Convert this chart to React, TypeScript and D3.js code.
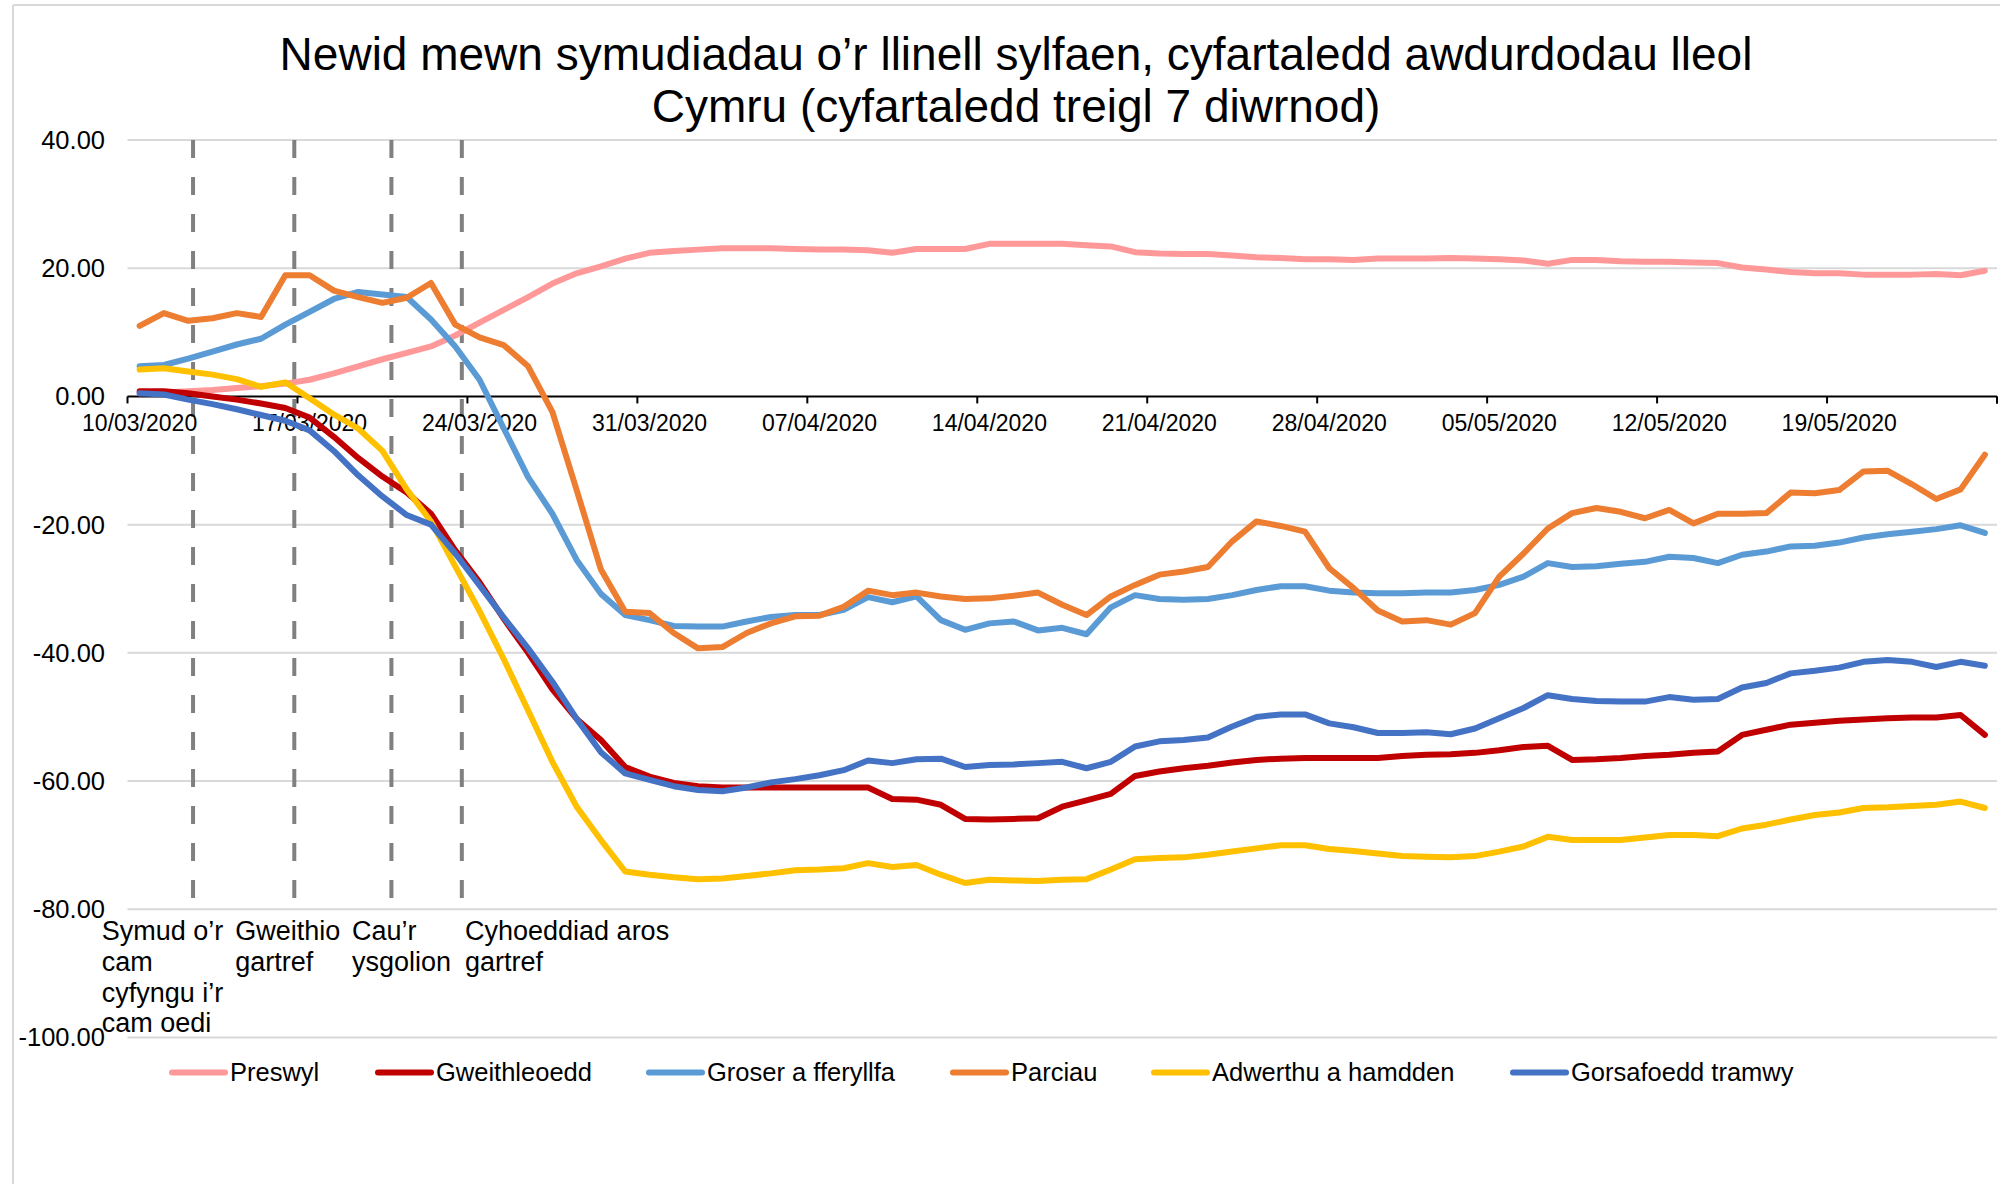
import React from 'react';
import * as d3 from 'd3';

// categories: daily dates, 10/03/2020 to 25/05/2020
const fmt = d3.timeFormat('%d/%m/%Y');
const dates: string[] = d3.timeDay.range(new Date(2020, 2, 10), new Date(2020, 4, 26)).map(fmt);

const seriesNames = [
  'Preswyl',
  'Gweithleoedd',
  'Groser a fferyllfa',
  'Parciau',
  'Adwerthu a hamdden',
  'Gorsafoedd tramwy',
];

const preswyl = [
  0.5, 0.6, 0.8, 1.0, 1.3, 1.6, 2.0, 2.6, 3.6, 4.7,
  5.8, 6.8, 7.8, 9.5, 11.5, 13.5, 15.5, 17.6, 19.2, 20.3,
  21.5, 22.4, 22.7, 22.9, 23.1, 23.1, 23.1, 23.0, 22.9, 22.9,
  22.8, 22.4, 23.0, 23.0, 23.0, 23.8, 23.8, 23.8, 23.8, 23.6,
  23.4, 22.5, 22.3, 22.2, 22.2, 22.0, 21.7, 21.6, 21.4, 21.4,
  21.3, 21.5, 21.5, 21.5, 21.6, 21.5, 21.4, 21.2, 20.7, 21.3,
  21.3, 21.1, 21.0, 21.0, 20.9, 20.8, 20.1, 19.8, 19.4, 19.2,
  19.2, 19.0, 19.0, 19.0, 19.1, 18.9, 19.6,
];

const gweithleoedd = [
  0.8, 0.8, 0.5, 0.0, -0.5, -1.1, -1.8, -3.3, -6.3, -9.6,
  -12.5, -15.0, -18.3, -24.0, -29.0, -34.7, -40.0, -45.7, -50.3, -53.6,
  -57.8, -59.3, -60.3, -60.8, -61.0, -61.0, -61.0, -61.0, -61.0, -61.0,
  -61.0, -62.8, -62.9, -63.7, -65.9, -66.0, -65.9, -65.8, -64.0, -63.0,
  -62.0, -59.2, -58.5, -58.0, -57.6, -57.1, -56.7, -56.5, -56.4, -56.4,
  -56.4, -56.4, -56.1, -55.9, -55.8, -55.6, -55.2, -54.7, -54.5, -56.7,
  -56.6, -56.4, -56.1, -55.9, -55.6, -55.4, -52.8, -52.0, -51.2, -50.9,
  -50.6, -50.4, -50.2, -50.1, -50.1, -49.7, -52.8,
];

const groser = [
  4.7, 4.9, 5.9, 7.0, 8.1, 9.0, 11.2, 13.2, 15.2, 16.3,
  15.9, 15.5, 12.0, 7.8, 2.6, -5.0, -12.6, -18.3, -25.5, -30.8,
  -34.1, -34.9, -35.8, -35.9, -35.9, -35.1, -34.4, -34.1, -34.1, -33.3,
  -31.3, -32.1, -31.2, -34.9, -36.4, -35.4, -35.1, -36.5, -36.1, -37.1,
  -32.9, -31.0, -31.6, -31.7, -31.6, -31.0, -30.2, -29.6, -29.6, -30.3,
  -30.6, -30.7, -30.7, -30.6, -30.6, -30.2, -29.4, -28.1, -26.0, -26.6,
  -26.5, -26.1, -25.8, -25.0, -25.2, -26.0, -24.7, -24.2, -23.4, -23.3,
  -22.8, -22.0, -21.5, -21.1, -20.7, -20.1, -21.3,
];

const parciau = [
  11.0, 13.0, 11.8, 12.2, 13.0, 12.4, 18.9, 18.9, 16.5, 15.5,
  14.6, 15.4, 17.7, 11.2, 9.2, 8.0, 4.7, -2.4, -14.6, -27.0,
  -33.6, -33.8, -36.9, -39.3, -39.1, -36.9, -35.4, -34.3, -34.2, -32.8,
  -30.3, -31.0, -30.6, -31.2, -31.6, -31.5, -31.1, -30.6, -32.5, -34.1,
  -31.2, -29.4, -27.8, -27.3, -26.6, -22.6, -19.5, -20.2, -21.1, -26.8,
  -29.9, -33.4, -35.1, -34.9, -35.6, -33.8, -28.1, -24.5, -20.6, -18.2,
  -17.4, -18.0, -19.0, -17.7, -19.8, -18.3, -18.3, -18.2, -15.0, -15.1,
  -14.6, -11.7, -11.6, -13.7, -16.0, -14.5, -9.1,
];

const adwerthu = [
  4.2, 4.4, 3.9, 3.4, 2.7, 1.5, 2.2, -0.3, -2.8, -5.0,
  -8.5, -14.5, -19.5, -26.5, -33.5, -41.0, -49.0, -57.0, -64.0, -69.2,
  -74.1, -74.6, -75.0, -75.3, -75.2, -74.8, -74.4, -73.9, -73.8, -73.6,
  -72.8, -73.4, -73.1, -74.6, -75.9, -75.4, -75.5, -75.6, -75.4, -75.3,
  -73.8, -72.2, -72.0, -71.9, -71.5, -71.0, -70.5, -70.0, -70.0, -70.6,
  -70.9, -71.3, -71.7, -71.8, -71.9, -71.7, -71.0, -70.2, -68.7, -69.2,
  -69.2, -69.2, -68.8, -68.4, -68.4, -68.6, -67.4, -66.8, -66.0, -65.3,
  -64.9, -64.2, -64.1, -63.9, -63.7, -63.2, -64.2,
];

const gorsafoedd = [
  0.5, 0.3, -0.5, -1.2, -2.0, -2.9, -3.8, -5.3, -8.5, -12.3,
  -15.6, -18.5, -20.0, -24.5, -29.5, -34.5, -39.3, -44.5, -50.3, -55.5,
  -58.8, -59.8, -60.8, -61.4, -61.6, -61.0, -60.2, -59.7, -59.1, -58.3,
  -56.8, -57.2, -56.6, -56.5, -57.8, -57.5, -57.4, -57.2, -57.0, -58.0,
  -57.0, -54.6, -53.8, -53.6, -53.2, -51.5, -50.0, -49.6, -49.6, -51.0,
  -51.6, -52.5, -52.5, -52.4, -52.7, -51.8, -50.2, -48.6, -46.6, -47.2,
  -47.5, -47.6, -47.6, -46.9, -47.3, -47.2, -45.4, -44.7, -43.2, -42.8,
  -42.3, -41.4, -41.1, -41.4, -42.2, -41.4, -42.0,
];

const seriesValues = [preswyl, gweithleoedd, groser, parciau, adwerthu, gorsafoedd];
const seriesColors = ['#FF9999', '#C00000', '#5B9BD5', '#ED7D31', '#FFC000', '#4472C4'];

const yTicks = [40, 20, 0, -20, -40, -60, -80, -100];

// event markers, position in day units from the start of the axis
const eventPos = [2.7, 6.87, 10.87, 13.77];
const eventLabels = [
  ['Symud o’r', 'cam', 'cyfyngu i’r', 'cam oedi'],
  ['Gweithio', 'gartref'],
  ['Cau’r', 'ysgolion'],
  ['Cyhoeddiad aros', 'gartref'],
];

const titleLines = [
  'Newid mewn symudiadau o’r llinell sylfaen, cyfartaledd awdurdodau lleol',
  'Cymru (cyfartaledd treigl 7 diwrnod)',
];

// layout
const W = 2005;
const H = 1184;
const plot = { left: 127.5, right: 1997, top: 140, bottom: 1037.5 };
const eventLabelX = [101.7, 235.3, 352, 465];
const legendX = [172, 378, 649, 953, 1154, 1513];
const FONT = '"Liberation Sans", Arial, Helvetica, sans-serif';

export default function App() {
  const x = d3.scaleBand<string>().domain(dates).range([plot.left, plot.right]);
  const xc = (d: string) => (x(d) as number) + x.bandwidth() / 2;
  const xDay = d3.scaleLinear().domain([0, dates.length]).range([plot.left, plot.right]);
  const y = d3.scaleLinear().domain([-100, 40]).range([plot.bottom, plot.top]);

  const line = d3
    .line<number>()
    .x((_, i) => xc(dates[i]))
    .y((v) => y(v));

  const labelDates = dates.filter((_, i) => i % 7 === 0);

  return (
    <div style={{ position: 'absolute', left: 0, top: 0 }}>
      <svg width={W} height={H} style={{ display: 'block', background: '#fff', fontFamily: FONT }}>
        {/* chart border */}
        <line x1={13} x2={2000} y1={5} y2={5} stroke="#D9D9D9" strokeWidth={2} />
        <line x1={13} x2={13} y1={5} y2={H} stroke="#D9D9D9" strokeWidth={2} />

        {/* title */}
        {titleLines.map((t, i) => (
          <text key={i} x={1016} y={70 + i * 52} textAnchor="middle" fontSize={46} fill="#000">
            {t}
          </text>
        ))}

        {/* gridlines + y labels */}
        {yTicks.map((t) => (
          <g key={t}>
            {t !== 0 && (
              <line x1={plot.left} x2={plot.right} y1={y(t)} y2={y(t)} stroke="#D9D9D9" strokeWidth={2} />
            )}
            <text x={105} y={y(t)} dy="0.35em" textAnchor="end" fontSize={25.5} fill="#000">
              {t.toFixed(2)}
            </text>
          </g>
        ))}

        {/* event dashed lines */}
        {eventPos.map((p, i) => (
          <line
            key={i}
            x1={xDay(p)}
            x2={xDay(p)}
            y1={y(40)}
            y2={y(-80)}
            stroke="#808080"
            strokeWidth={4}
            strokeDasharray="18 19"
          />
        ))}

        {/* x axis at zero */}
        <line x1={plot.left} x2={plot.right} y1={y(0)} y2={y(0)} stroke="#000" strokeWidth={2} />
        {d3.range(0, dates.length + 1, 7).concat([dates.length]).map((k, i) => (
          <line key={i} x1={xDay(k)} x2={xDay(k)} y1={y(0)} y2={y(0) + 7} stroke="#000" strokeWidth={2} />
        ))}
        {labelDates.map((d) => (
          <text key={d} x={xc(d)} y={y(0) + 35} textAnchor="middle" fontSize={23} fill="#000">
            {d}
          </text>
        ))}

        {/* series */}
        {seriesValues.map((vals, s) => (
          <path
            key={s}
            d={line(vals) || ''}
            fill="none"
            stroke={seriesColors[s]}
            strokeWidth={6}
            strokeLinejoin="round"
            strokeLinecap="round"
          />
        ))}

        {/* event labels */}
        {eventLabels.map((lines, i) => (
          <text key={i} fontSize={27} fill="#000">
            {lines.map((l, j) => (
              <tspan key={j} x={eventLabelX[i]} y={940 + j * 30.8}>
                {l}
              </tspan>
            ))}
          </text>
        ))}

        {/* legend */}
        {seriesNames.map((n, i) => (
          <g key={n} transform={`translate(${legendX[i]},1072.5)`}>
            <line x1={0} x2={53} y1={0} y2={0} stroke={seriesColors[i]} strokeWidth={6} strokeLinecap="round" />
            <text x={58} y={0} dy="0.35em" fontSize={25.5} fill="#000">
              {n}
            </text>
          </g>
        ))}
      </svg>
    </div>
  );
}
